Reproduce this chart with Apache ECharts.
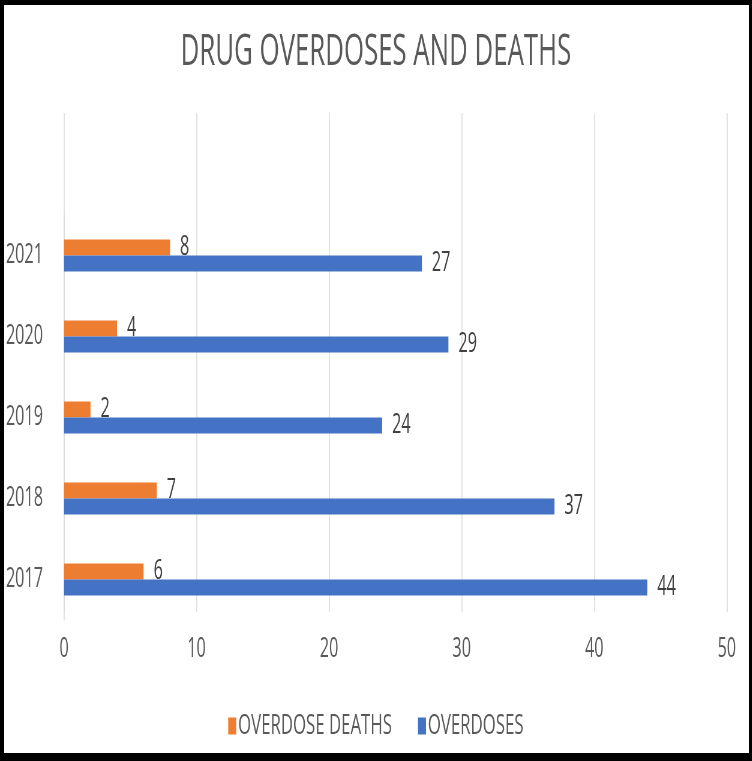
<!DOCTYPE html>
<html>
<head>
<meta charset="utf-8">
<script src="https://cdn.jsdelivr.net/npm/echarts@6/dist/echarts.min.js"></script>
<style>
html,body{margin:0;padding:0;background:#fff;overflow:hidden;}
#wrap{position:relative;width:752px;height:761px;overflow:hidden;}
/* the reference uses a tall, condensed face: render wider and squeeze horizontally */
#chart{position:absolute;left:0;top:0;width:1253.33px;height:761px;transform:scaleX(0.6);transform-origin:0 0;}
#frame{position:absolute;left:0;top:0;width:752px;height:761px;box-sizing:border-box;
border-style:solid;border-color:#000;border-width:5px 3px 8px 4px;pointer-events:none;}
</style>
</head>
<body>
<div id="wrap"><div id="chart"></div><div id="frame"></div></div>
<script>
var categories = ['2017', '2018', '2019', '2020', '2021'];
var overdoseDeaths = [6, 7, 2, 4, 8];
var overdoses = [44, 37, 24, 29, 27];
var xTicks = [0, 10, 20, 30, 40, 50];

var SX = 0.6; // horizontal squeeze factor
function px(v) { return v / SX; }
var FONT = "'Open Sans', 'Noto Sans', sans-serif";
var chart = echarts.init(document.getElementById('chart'), null, {renderer: 'canvas'});
chart.setOption({
  backgroundColor: '#ffffff',
  animation: false,
  title: {
    text: 'DRUG OVERDOSES AND DEATHS',
    left: 'center',
    top: 26,
    textStyle: {fontFamily: FONT, fontSize: 43, fontWeight: 'normal', color: '#595959'}
  },
  legend: {
    data: ['OVERDOSE DEATHS', 'OVERDOSES'],
    left: 'center',
    top: 707,
    icon: 'rect',
    itemWidth: px(8),
    itemHeight: 17,
    itemGap: px(26),
    textStyle: {fontFamily: FONT, fontSize: 28, color: '#595959', padding: [0, 0, 0, -2]}
  },
  grid: [
    {left: px(64), right: px(25), top: 215, bottom: 141, containLabel: false, outerBoundsMode: 'none'},
    {left: px(64), right: px(25), top: 113, bottom: 149, containLabel: false, outerBoundsMode: 'none'}
  ],
  xAxis: [
    {gridIndex: 0, type: 'value', min: xTicks[0], max: xTicks[xTicks.length - 1], interval: 10, show: false},
    {gridIndex: 1, type: 'value', min: xTicks[0], max: xTicks[xTicks.length - 1], interval: 10,
      axisLine: {show: false}, axisTick: {show: false},
      splitLine: {show: true, lineStyle: {color: '#d9d9d9', width: 1.5}},
      axisLabel: {fontFamily: FONT, fontSize: 27, color: '#595959', margin: 24}}
  ],
  yAxis: [
    {gridIndex: 0, type: 'category', data: categories,
      axisLine: {show: true, lineStyle: {color: '#d9d9d9', width: 1.5}},
      axisTick: {show: false},
      axisLabel: {fontFamily: FONT, fontSize: 27, color: '#595959', margin: px(21), padding: [0, 0, 10, 0]}},
    {gridIndex: 1, type: 'value', show: false, min: 0, max: 1}
  ],
  series: [
    {name: 'OVERDOSE DEATHS', type: 'bar', xAxisIndex: 0, yAxisIndex: 0, data: overdoseDeaths,
      itemStyle: {color: '#ed7d31'}, barWidth: 16, barGap: '0%',
      label: {show: true, position: 'right', distance: px(10), fontFamily: FONT, fontSize: 27, color: '#404040'}},
    {name: 'OVERDOSES', type: 'bar', xAxisIndex: 0, yAxisIndex: 0, data: overdoses,
      itemStyle: {color: '#4472c4'}, barWidth: 16, barGap: '0%',
      label: {show: true, position: 'right', distance: px(10), fontFamily: FONT, fontSize: 27, color: '#404040'}}
  ]
});
</script>
</body>
</html>
